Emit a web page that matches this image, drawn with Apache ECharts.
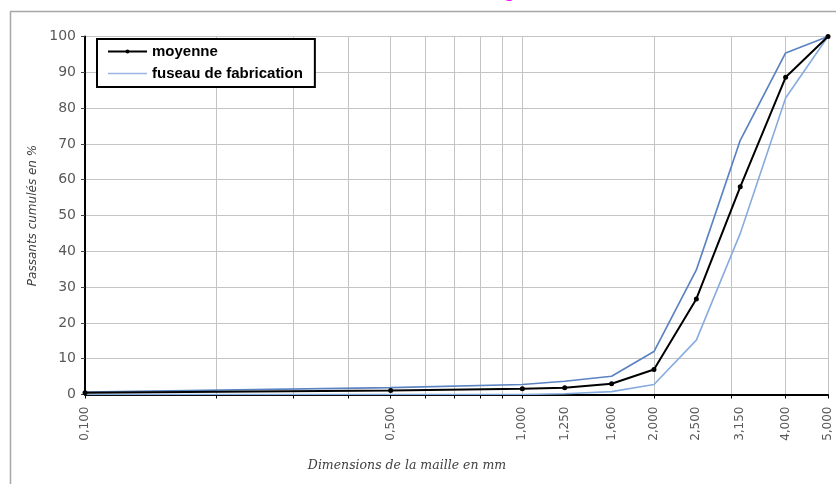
<!DOCTYPE html>
<html><head><meta charset="utf-8">
<script src="https://cdn.jsdelivr.net/npm/echarts@6/dist/echarts.min.js"></script>
<style>html,body{margin:0;padding:0;background:#fff}#c{width:836px;height:484px}</style>
</head><body><div id="c"></div>
<script>
// Sieve sizes (mm) and cumulative passing (%)
const sieveSizes = [0.1, 0.5, 1, 1.25, 1.6, 2, 2.5, 3.15, 4, 5];
const moyenne    = [0.5, 1.1, 1.6, 1.9, 3.0, 7.0, 26.7, 58.0, 88.6, 100];
const fuseauMax  = [0.7, 1.9, 2.8, 3.7, 5.1, 12.0, 34.8, 71.0, 95.4, 100];
const fuseauMin  = [0, 0, 0, 0.2, 0.8, 2.8, 15.2, 45.0, 82.8, 100];
// Log-axis grid positions
const gridSizes  = [0.1, 0.2, 0.3, 0.4, 0.5, 0.6, 0.7, 0.8, 0.9, 1, 2, 3, 4, 5];
const seriesNames = ['moyenne', 'fuseau de fabrication'];

const pairs = arr => sieveSizes.map((x, i) => [x, arr[i]]);
const fmtX = v => Number(v).toFixed(3).replace('.', ',');

const chart = echarts.init(document.getElementById('c'), null, {renderer: 'canvas'});
chart.setOption({
  animation: false,
  backgroundColor: '#fff',
  grid: {left: 85, right: 8, top: 36.5, bottom: 89.5, containLabel: false},
  graphic: [
    {type: 'rect', shape: {x: 10.5, y: 11.5, width: 900, height: 600},
     style: {fill: null, stroke: '#a6a6a6', lineWidth: 1.5}, silent: true, z: -1},
    {type: 'text', left: 502, top: -12,
     style: {text: 'C', fill: '#ff00ff', font: '17px "DejaVu Sans"'}, silent: true}
  ],
  legend: {
    orient: 'vertical', left: 97, top: 39,
    backgroundColor: '#fff', borderColor: '#000', borderWidth: 2, borderRadius: 0,
    padding: [5, 12, 6, 10], itemGap: 7, itemWidth: 39, itemHeight: 5,
    textStyle: {fontFamily: 'Liberation Sans', fontWeight: 'bold', fontSize: 15, color: '#000'},
    data: [
      {name: seriesNames[0]},
      {name: seriesNames[1], lineStyle: {color: '#9ab5e2', width: 1.5}, itemStyle: {color: '#9ab5e2', opacity: 0}}
    ]
  },
  xAxis: {
    type: 'log', logBase: 10, min: 0.1, max: 5,
    name: 'Dimensions de la maille en mm', nameLocation: 'middle', nameGap: 65,
    nameTextStyle: {fontFamily: 'DejaVu Serif', fontStyle: 'italic', fontSize: 12.5, color: '#404040', padding: [0, 99, 0, 0]},
    axisLine: {show: true, onZero: false, lineStyle: {color: '#000', width: 2}},
    axisTick: {show: true, inside: false, length: 4, customValues: gridSizes, lineStyle: {color: '#000', width: 1}},
    axisLabel: {show: true, customValues: sieveSizes, rotate: 90, margin: 12,
      formatter: v => fmtX(v), fontFamily: 'DejaVu Sans', fontSize: 12, color: '#595959'},
    splitLine: {show: true, lineStyle: {color: '#c4c4c4', width: 1}}
  },
  yAxis: {
    type: 'value', min: 0, max: 100, interval: 10,
    name: 'Passants cumulés en %', nameLocation: 'middle', nameGap: 46,
    nameTextStyle: {fontFamily: 'DejaVu Sans', fontStyle: 'italic', fontSize: 12, color: '#404040'},
    axisLine: {show: true, lineStyle: {color: '#000', width: 2}},
    axisTick: {show: true, length: 4, lineStyle: {color: '#404040', width: 1}},
    axisLabel: {margin: 9, fontFamily: 'DejaVu Sans', fontSize: 14, color: '#595959'},
    splitLine: {show: true, lineStyle: {color: '#c4c4c4', width: 1}}
  },
  series: [
    {name: seriesNames[1], type: 'line', data: pairs(fuseauMax), symbol: 'none',
     lineStyle: {color: '#5b83c2', width: 1.7}, itemStyle: {color: '#5b83c2'}, z: 2},
    {name: seriesNames[1], type: 'line', data: pairs(fuseauMin), symbol: 'none',
     lineStyle: {color: '#86acdf', width: 1.6}, itemStyle: {color: '#86acdf'}, z: 2},
    {name: seriesNames[0], type: 'line', data: pairs(moyenne), symbol: 'circle', symbolSize: 5,
     lineStyle: {color: '#000', width: 2}, itemStyle: {color: '#000'}, z: 3}
  ]
});
</script></body></html>
